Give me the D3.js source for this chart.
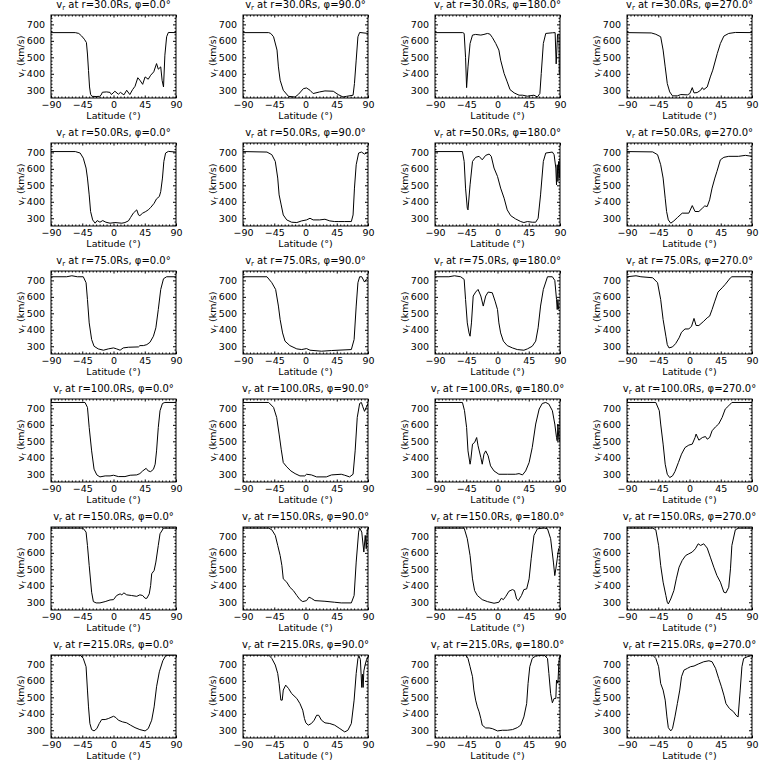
<!DOCTYPE html>
<html><head><meta charset="utf-8">
<script src="https://cdn.jsdelivr.net/npm/d3@7"></script>
<style>body{margin:0;background:#fff}svg{display:block}</style>
</head><body><svg id="c" width="768" height="768"></svg>
<script>
const radii = [30, 50, 75, 100, 150, 215];
const phis = [0, 90, 180, 270];
const xTicks = [-90, -45, 0, 45, 90];
const yTicks = [300, 400, 500, 600, 700];
const yDomain = [253, 757];

const r30_p0 = [[-90,650],[-55,650],[-50,645],[-46,630],[-42,610],[-39,590],[-37.5,520],[-36,420],[-34.5,320],[-33,275],[-31,263],[-25,262],[-20,263],[-18,270],[-16,288],[-10,290],[-5,287],[-3,274],[2,294],[7,276],[10,287],[15,272],[19,300],[23.5,274],[27.5,304],[31,324],[35,376],[38,361],[42,336],[45.5,381],[50,367],[53.5,391],[58,412],[62,462],[64.5,428],[68,442],[70,360],[72,320],[74,513],[76.5,625],[79,651],[90,650]];
const r30_p90 = [[-90,650],[-53,650],[-50,645],[-46,625],[-41,544],[-39,442],[-36.5,361],[-32,300],[-24.5,263],[-15,259],[-10,276],[-3,310],[1.5,314],[6.5,300],[11,280],[20.5,290],[28,296],[40,294],[47,274],[54,259],[59,263],[68.5,270],[70.5,341],[73,483],[75.5,625],[78,651],[90,645]];
const r30_p180 = [[-90,650],[-50,650],[-48,645],[-46,500],[-44.5,316],[-42.5,442],[-39.5,584],[-36,635],[-31.5,639],[-24,635],[-19.5,639],[-14.5,645],[-11,641],[-7.5,621],[-2.5,584],[2,544],[4.5,483],[9.5,402],[14,351],[18,304],[24,284],[31,270],[36,270],[43,264],[52.5,270],[57.5,259],[61,280],[63,402],[66,584],[69.5,645],[79,649],[83,650],[84.5,460],[86.5,640],[88.5,640],[89,400],[90,400]];
const r30_p270 = [[-90,650],[-55,648],[-48.5,640],[-41.5,625],[-38,544],[-35,442],[-32,341],[-28.5,290],[-24.5,266],[-17.5,266],[-12.5,274],[-3,272],[0.5,280],[4,316],[6.5,284],[11,286],[16,300],[18.5,316],[20.5,304],[25.5,320],[30,381],[33.5,422],[40,523],[44.5,584],[49.5,629],[56.5,645],[66,651],[90,650]];

const r50_p0 = [[-90,705],[-55,705],[-48,696],[-43.5,665],[-39.5,605],[-37.5,544],[-35,442],[-33,341],[-30,290],[-26.5,270],[-23.5,286],[-19.5,276],[-15.5,286],[-11,276],[-5,270],[2,274],[12,270],[16.5,274],[21.5,284],[24.5,304],[28.5,331],[33.5,351],[36,320],[38,316],[42,331],[46.5,341],[50,351],[53.5,365],[58.5,391],[62,418],[66,432],[68,462],[70.5,544],[72.5,645],[75,696],[79,706],[90,702]];
const r50_p90 = [[-90,705],[-55.5,702],[-48.5,686],[-43.5,645],[-40,544],[-38,442],[-35,381],[-32,320],[-27,290],[-20,276],[-12.5,274],[-5.5,284],[1.5,290],[6.5,300],[11,290],[20.5,290],[28,294],[35,284],[42,280],[47,280],[56.5,280],[66,280],[68.5,320],[70.5,483],[73,625],[76.5,696],[80.5,702],[85,690],[90,702]];
const r50_p180 = [[-90,705],[-50.5,705],[-48,645],[-46,483],[-43.5,361],[-42.5,351],[-39.5,503],[-36,645],[-31.5,670],[-26.5,676],[-22,655],[-17,682],[-12,690],[-9,676],[-5,605],[0,554],[4.5,483],[9.5,422],[14,351],[19,316],[26,296],[33.5,280],[38,274],[43,280],[50,276],[55,276],[58.5,300],[62,442],[66,645],[69.5,696],[79,702],[81.5,686],[84,605],[85,503],[86,625],[87,523],[88,645],[89,545],[90,665]];
const r50_p270 = [[-90,705],[-53,703],[-46,686],[-41.5,625],[-38,544],[-35,422],[-33,341],[-30.5,290],[-27,270],[-22.5,284],[-17.5,304],[-10.5,331],[-1,331],[4,377],[8,341],[13.5,341],[18.5,361],[22,375],[25.5,371],[29,412],[32.5,483],[36.5,544],[39.5,584],[44.5,655],[49.5,670],[56.5,676],[70.5,676],[80.5,682],[90,676]];

const r75_p0 = [[-90,722],[-67.5,722],[-60,728],[-52,722],[-43.5,722],[-39.5,686],[-37.5,584],[-35,442],[-31.5,341],[-28,300],[-22,284],[-14.5,276],[-7.5,284],[0,290],[4.5,284],[9.5,276],[14,290],[21.5,294],[36,296],[38,304],[43,304],[48,310],[52.5,324],[57.5,361],[61,412],[64.5,523],[68,645],[72,710],[76.5,722],[90,722]];
const r75_p90 = [[-90,722],[-55.5,722],[-48.5,686],[-43,645],[-39,544],[-36.5,462],[-33,381],[-29.5,331],[-22.5,304],[-12.5,284],[-5.5,280],[1.5,286],[6.5,276],[23,270],[37.5,274],[66,280],[70,341],[73,544],[75.5,686],[78,722],[81,722],[85,690],[87.5,706],[90,716]];
const r75_p180 = [[-90,722],[-70,722],[-62,728],[-53,722],[-48,706],[-46,584],[-43.5,442],[-41,381],[-39.5,361],[-37.5,442],[-35,605],[-31.5,629],[-28,645],[-24,605],[-20.5,544],[-17,605],[-13.5,629],[-7.5,625],[-3.5,574],[0,523],[2,442],[4.5,381],[8.5,331],[14,304],[21.5,290],[28.5,280],[38,276],[43,284],[50,300],[55,331],[58.5,412],[62,544],[66,645],[72,722],[79,722],[82.5,700],[85,584],[86,523],[87,584],[88,523]];
const r75_p270 = [[-90,722],[-77,728],[-70,722],[-53,716],[-46,686],[-41.5,584],[-38,462],[-34,361],[-32,310],[-29.5,290],[-24.5,296],[-20,316],[-15,351],[-11.5,385],[-6.5,405],[-1,405],[3,422],[6.5,469],[9.5,426],[13.5,426],[20.5,452],[25.5,473],[29,483],[32.5,523],[36.5,574],[41,629],[47,655],[51.5,676],[59,716],[61,722],[90,722]];

const r100_p0 = [[-90,736],[-41,736],[-37.5,706],[-35,584],[-31.5,442],[-28,331],[-24,296],[-19.5,284],[-12,290],[-5,290],[0,294],[7,286],[16.5,286],[24,294],[33.5,296],[38,304],[42,320],[47,336],[50,320],[53.5,316],[57.5,330],[60,361],[62,442],[64.5,584],[67,686],[70.5,730],[74,736],[90,736]];
const r100_p90 = [[-90,736],[-53,736],[-46,706],[-41.5,645],[-38,544],[-35,452],[-32,371],[-27,345],[-21,320],[-15,304],[-8,290],[-1,290],[1.5,300],[8.5,296],[16,284],[30,284],[37.5,296],[51.5,300],[56.5,294],[63.5,284],[68.5,300],[71.5,442],[74.5,645],[78,730],[80.5,736],[82.5,710],[85,682],[87.5,706],[90,730]];
const r100_p180 = [[-90,736],[-50.5,736],[-47.5,686],[-44.5,584],[-42.5,442],[-39.5,361],[-38.5,385],[-36,483],[-33,493],[-30,523],[-28,473],[-24,402],[-22,361],[-19.5,422],[-17,442],[-13.5,412],[-10,351],[-5,320],[2,300],[14,300],[26,300],[31,304],[36,296],[40.5,320],[45.5,371],[50,462],[55,605],[60,696],[64.5,730],[69.5,736],[74,726],[79,686],[82.5,605],[85,523],[86,503],[87,605],[88.5,503],[90,503],[90,686]];
const r100_p270 = [[-90,736],[-48.5,736],[-43.5,686],[-41.5,605],[-38,483],[-35,361],[-32,300],[-28.5,280],[-24.5,290],[-21,316],[-16,371],[-11.5,422],[-6.5,462],[-1,477],[4,483],[8,523],[9.5,544],[13.5,507],[18.5,523],[23,529],[25.5,513],[29,523],[32.5,564],[37.5,588],[42,605],[47,645],[51.5,696],[56.5,716],[61,736],[90,736]];

const r150_p0 = [[-90,750],[-45,750],[-43.5,748],[-39.5,726],[-37.5,645],[-35,523],[-31.5,361],[-29,304],[-25,296],[-19.5,296],[-12,304],[-5,314],[0,316],[4.5,341],[9.5,351],[12,345],[15,357],[19,345],[26,341],[33.5,336],[38,345],[42,341],[45.5,324],[48,324],[51.5,351],[53.5,402],[55,473],[58.5,493],[61,544],[64.5,645],[67,716],[72,750],[90,750]];
const r150_p90 = [[-90,750],[-53,750],[-48.5,740],[-43.5,706],[-40,645],[-36.5,584],[-34,523],[-32,442],[-27,422],[-22.5,391],[-17.5,371],[-12.5,341],[-8,316],[-4,304],[1.5,310],[5,331],[8.5,324],[13.5,310],[28,306],[42,300],[51.5,296],[66,296],[70,341],[73,544],[76.5,726],[78,751],[81,726],[84,605],[86,706],[87.5,625],[89,740],[90,750]];
const r150_p180 = [[-90,750],[-48,750],[-43.5,686],[-39.5,584],[-36,442],[-33,371],[-29,341],[-22,316],[-14.5,304],[-5,294],[2,300],[5.5,324],[8.5,316],[12,336],[16.5,367],[21.5,377],[24.5,371],[27.5,320],[30,310],[34.5,341],[38,377],[42,381],[45.5,442],[48.5,564],[52.5,706],[57.5,746],[67,751],[72,746],[76.5,686],[80.5,544],[82.5,462],[84,503],[86,564],[88,625],[90,635]];
const r150_p270 = [[-90,750],[-53,750],[-48.5,740],[-44.5,645],[-41.5,523],[-38,422],[-34,341],[-32,300],[-30.5,290],[-27,320],[-22.5,371],[-19,442],[-15,513],[-10.5,554],[-5.5,584],[-1,594],[4,605],[8.5,625],[12.5,655],[16,645],[20.5,655],[25.5,629],[30,574],[35,513],[39.5,462],[44.5,422],[49.5,361],[52.5,357],[56.5,391],[59,503],[61,645],[66,740],[70.5,750],[90,750]];

const r215_p0 = [[-90,757],[-48,757],[-43.5,736],[-39.5,686],[-37.5,544],[-36,442],[-34,341],[-31.5,304],[-28,296],[-24,310],[-20.5,341],[-17,365],[-12,365],[-7.5,371],[0,385],[3.5,377],[7,361],[13,351],[19,345],[24.5,331],[31,316],[38,304],[45.5,296],[50,310],[55,361],[58.5,442],[62,564],[66,655],[71,722],[75.5,755],[90,757]];
const r215_p90 = [[-90,757],[-53,757],[-48.5,736],[-43.5,696],[-40,645],[-38,584],[-35.5,483],[-33.5,483],[-32,544],[-28.5,574],[-24.5,554],[-20,523],[-12.5,493],[-8,462],[-4,422],[-1.5,371],[0.5,345],[4,331],[8.5,341],[12.5,361],[16,391],[19,391],[23,361],[28,345],[35,341],[42,331],[49.5,310],[56.5,290],[61,300],[66,341],[70,483],[73,645],[75.5,736],[77,751],[79,730],[81,560],[82,640],[83,560],[84,660],[86,700],[88,730],[90,745]];
const r215_p180 = [[-90,757],[-46,757],[-42.5,736],[-39.5,686],[-36,625],[-34,544],[-31.5,483],[-29,442],[-26.5,412],[-24,371],[-22,331],[-17,314],[-12,314],[-7.5,310],[0,296],[7,300],[14,300],[21.5,304],[28.5,316],[33.5,331],[38,381],[42,462],[44,584],[46.5,686],[50,736],[55,751],[67,757],[72,736],[74,645],[76.5,523],[79,467],[81.5,493],[84,493],[85,605],[87,585],[88.5,720],[90,752]];
const r215_p270 = [[-90,757],[-53,757],[-48.5,736],[-44.5,686],[-41.5,584],[-38,544],[-35,483],[-32.5,381],[-30.5,316],[-27,296],[-24.5,310],[-21,381],[-17.5,462],[-14,544],[-11.5,625],[-8,665],[-3,676],[1.5,686],[6.5,690],[12.5,702],[20.5,716],[28,722],[32.5,716],[37.5,676],[42,615],[46,564],[49.5,513],[52.5,462],[57.5,432],[63.5,412],[67,391],[70,381],[73,544],[75.5,686],[78,736],[83,746],[90,755]];

const panels = [
  [r30_p0, r30_p90, r30_p180, r30_p270],
  [r50_p0, r50_p90, r50_p180, r50_p270],
  [r75_p0, r75_p90, r75_p180, r75_p270],
  [r100_p0, r100_p90, r100_p180, r100_p270],
  [r150_p0, r150_p90, r150_p180, r150_p270],
  [r215_p0, r215_p90, r215_p180, r215_p270]
];

const W = 125, H = 83, X0 = 51, Y0 = 15, DX = 192, DY = 128;
const FONT = "'DejaVu Sans', sans-serif";
const svg = d3.select('#c');
svg.append('rect').attr('width', 768).attr('height', 768).attr('fill', '#fff');
const x = d3.scaleLinear().domain([-90, 90]).range([0, W]);
const y = d3.scaleLinear().domain(yDomain).range([H, 0]);
const xMinor = d3.range(-90, 91, 5).filter(v => !xTicks.includes(v));
const yMinor = d3.range(260, 757, 20).filter(v => !yTicks.includes(v));
const line = d3.line().x(d => x(d[0])).y(d => y(d[1]));

const defs = svg.append('defs');
defs.append('clipPath').attr('id', 'clip').append('rect').attr('width', W).attr('height', H);

panels.forEach((row, ri) => row.forEach((data, ci) => {
  const g = svg.append('g').attr('transform', `translate(${X0 + DX * ci},${Y0 + DY * ri})`);
  const ax = (axis, tr) => {
    const a = g.append('g').attr('transform', tr || null).call(axis);
    a.select('.domain').remove();
    a.selectAll('line').attr('stroke', '#000').attr('stroke-width', 1);
    a.selectAll('text').attr('font-family', FONT).attr('font-size', 9.5).attr('fill', '#000');
    return a;
  };
  ax(d3.axisBottom(x).tickValues(xTicks).tickSize(-2.5).tickPadding(3).tickFormat(d => d < 0 ? '\u2212' + (-d) : d), `translate(0,${H})`);
  ax(d3.axisBottom(x).tickValues(xMinor).tickSize(-1.5).tickFormat(''), `translate(0,${H})`);
  ax(d3.axisTop(x).tickValues(xTicks).tickSize(-2.5).tickFormat(''));
  ax(d3.axisTop(x).tickValues(xMinor).tickSize(-1.5).tickFormat(''));
  ax(d3.axisLeft(y).tickValues(yTicks).tickSize(-3).tickPadding(6));
  ax(d3.axisLeft(y).tickValues(yMinor).tickSize(-1.5).tickFormat(''));
  ax(d3.axisRight(y).tickValues(yTicks).tickSize(-3).tickFormat(''), `translate(${W},0)`);
  ax(d3.axisRight(y).tickValues(yMinor).tickSize(-1.5).tickFormat(''), `translate(${W},0)`);
  g.append('rect').attr('width', W).attr('height', H).attr('fill', 'none').attr('stroke', '#000').attr('stroke-width', 1);

  g.append('path').datum(data).attr('d', line).attr('fill', 'none').attr('stroke', '#000')
    .attr('stroke-width', 1).attr('clip-path', 'url(#clip)');

  const t = g.append('text').attr('x', W / 2).attr('y', -7).attr('text-anchor', 'middle')
    .attr('font-family', FONT).attr('font-size', 10).attr('fill', '#000');
  t.append('tspan').text('v');
  t.append('tspan').attr('font-size', 7).attr('dy', 2).text('r');
  t.append('tspan').attr('dy', -2).text(`  at r=${radii[ri].toFixed(1)}Rs,  \u03C6=${phis[ci].toFixed(1)}\u00B0`);

  g.append('text').attr('x', W / 2).attr('y', H + 21).attr('text-anchor', 'middle')
    .attr('font-family', FONT).attr('font-size', 9.5).attr('fill', '#000').text('Latitude (\u00B0)');
  const yl = g.append('text').attr('transform', `translate(-27,${H / 2}) rotate(-90)`).attr('text-anchor', 'middle')
    .attr('font-family', FONT).attr('font-size', 9.5).attr('fill', '#000');
  yl.append('tspan').text('v');
  yl.append('tspan').attr('font-size', 7).attr('dy', 2).text('r');
  yl.append('tspan').attr('dy', -2).text(' (km/s)');
}));
</script></body></html>
